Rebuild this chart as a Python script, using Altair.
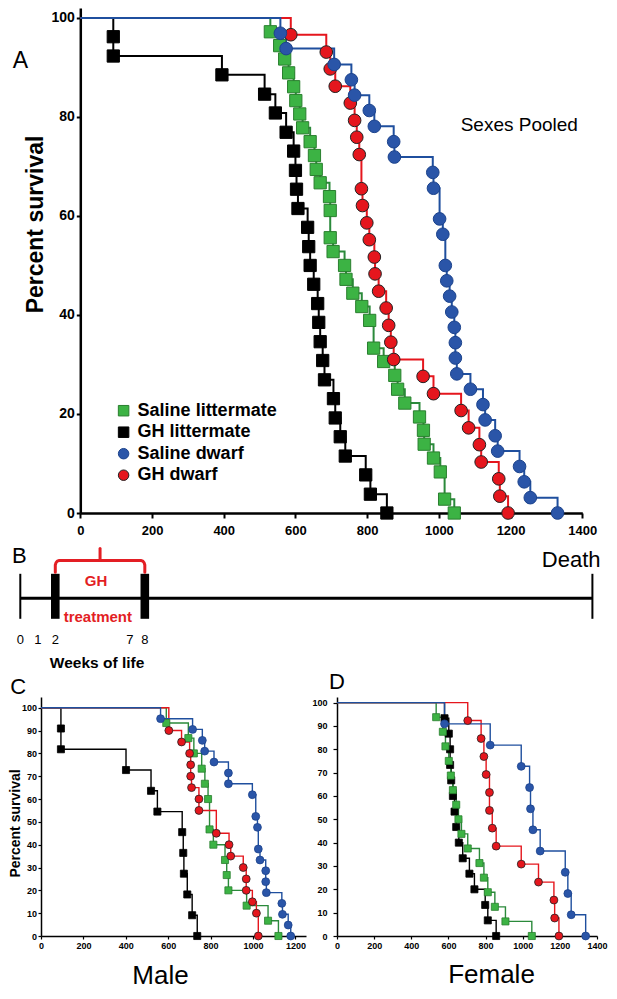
import altair as alt
import pandas as pd

# ------------------------------------------------------------------ data
LEGEND_ORDER = ["Saline littermate", "GH littermate", "Saline dwarf", "GH dwarf"]
DRAW_ORDER = ["GH littermate", "Saline littermate", "GH dwarf", "Saline dwarf"]
FILL_COLORS = ["#3cb344", "#000000", "#2a55a8", "#e5161d"]
LINE_COLORS = ["#2b8a3b", "#000000", "#1f4f9e", "#e5161d"]
EDGE_COLORS = ["#2a7f2f", "#000000", "#1c438c", "#222222"]
SHAPES = ["square", "square", "circle", "circle"]

# Panel A - sexes pooled: day of each death and % surviving after it
pooled_saline_lit_day = [530, 556, 570, 581, 595, 601, 612, 620, 641, 653, 658, 669, 695, 697, 697, 705,
                         737, 741, 760, 785, 807, 818, 846, 877, 885, 905, 946, 957, 959, 985, 1004, 1016, 1043]
pooled_saline_lit_pct = [97.2, 94.4, 91.7, 88.9, 86.1, 83.3, 80.6, 77.8, 75.0, 72.2, 69.4, 66.7, 63.9, 61.1, 55.6, 52.8,
                         50.0, 47.2, 44.4, 41.7, 38.9, 33.3, 30.6, 27.8, 25.0, 22.2, 19.4, 16.7, 13.9, 11.1, 8.3, 2.8, 0.0]
pooled_gh_lit_day = [92, 92, 395, 514, 544, 574, 595, 600, 603, 607, 634, 637, 641, 651, 662, 665, 669, 676, 681,
                     706, 711, 725, 739, 796, 809, 855]
pooled_gh_lit_pct = [96.2, 92.3, 88.5, 84.6, 80.8, 76.9, 73.1, 69.2, 65.4, 61.5, 57.7, 53.8, 50.0, 46.2, 42.3, 38.5,
                     34.6, 30.8, 26.9, 23.1, 19.2, 15.4, 11.5, 7.7, 3.8, 0.0]
pooled_saline_dwarf_day = [558, 574, 708, 756, 765, 806, 820, 874, 876, 983, 985, 1002, 1011, 1018, 1022, 1030, 1036,
                           1043, 1046, 1046, 1050, 1088, 1123, 1129, 1157, 1164, 1225, 1238, 1255, 1331]
pooled_saline_dwarf_pct = [96.9, 93.8, 90.6, 87.5, 84.4, 81.3, 78.1, 75.0, 71.9, 68.8, 65.6, 59.4, 56.3, 50.0, 46.9,
                           43.8, 40.6, 37.5, 34.4, 31.3, 28.1, 25.0, 21.9, 18.8, 15.6, 12.5, 9.4, 6.3, 3.1, 0.0]
pooled_gh_dwarf_day = [587, 686, 697, 711, 753, 765, 771, 778, 784, 787, 799, 806, 820, 822, 832, 853, 860, 866, 874,
                       956, 985, 1062, 1083, 1113, 1118, 1167, 1170, 1193]
pooled_gh_dwarf_pct = [96.6, 93.1, 89.7, 86.2, 82.8, 79.3, 75.9, 72.4, 65.5, 62.1, 58.6, 55.2, 51.7, 48.3, 44.8, 41.4,
                       37.9, 34.5, 31.0, 27.6, 24.1, 20.7, 17.2, 13.8, 10.3, 6.9, 3.4, 0.0]

# Panel C - male
male_saline_lit_day = [591, 695, 721, 758, 773, 788, 795, 813, 868, 876, 884, 970, 1071, 1120]
male_saline_lit_pct = [93.3, 86.7, 80.0, 73.3, 66.7, 60.0, 46.7, 40.0, 33.3, 26.7, 20.0, 13.3, 6.7, 0.0]
male_gh_lit_day = [94, 94, 401, 519, 549, 666, 671, 674, 690, 713, 737]
male_gh_lit_pct = [90.9, 81.8, 72.7, 63.6, 54.5, 45.5, 36.4, 27.3, 18.2, 9.1, 0.0]
male_saline_dwarf_day = [564, 715, 761, 772, 816, 884, 884, 997, 1013, 1021, 1025, 1033, 1060, 1060, 1063, 1136,
                         1139, 1166, 1178]
male_saline_dwarf_pct = [95.2, 90.5, 85.7, 81.0, 76.2, 71.4, 66.7, 61.9, 52.4, 47.6, 38.1, 33.3, 28.6, 23.8, 19.0,
                         14.3, 9.5, 4.8, 0.0]
male_gh_dwarf_day = [603, 663, 701, 706, 706, 710, 745, 745, 827, 887, 895, 954, 968, 968, 997, 1016, 1025]
male_gh_dwarf_pct = [90, 85, 80, 75, 70, 65, 60, 55, 45, 40, 35, 30, 25, 20, 15, 10, 0]

# Panel D - female
female_saline_lit_day = [534, 570, 584, 602, 613, 624, 642, 654, 670, 704, 767, 791, 812, 850, 907, 1049]
female_saline_lit_pct = [93.75, 87.5, 81.25, 75.0, 68.75, 62.5, 56.25, 50.0, 43.75, 37.5, 31.25, 25.0, 18.75, 12.5,
                         6.25, 0.0]
female_gh_lit_day = [579, 602, 609, 609, 615, 624, 633, 642, 656, 677, 713, 740, 798, 812, 857]
female_gh_lit_pct = [93.3, 86.7, 80.0, 73.3, 66.7, 60.0, 53.3, 46.7, 40.0, 33.3, 26.7, 20.0, 13.3, 6.7, 0.0]
female_saline_dwarf_day = [579, 825, 992, 1037, 1042, 1055, 1094, 1229, 1243, 1261, 1339]
female_saline_dwarf_pct = [90.9, 81.8, 72.7, 63.6, 54.5, 45.5, 36.4, 27.3, 18.2, 9.1, 0.0]
female_gh_dwarf_day = [704, 776, 791, 803, 821, 821, 836, 857, 992, 1085, 1168, 1172, 1195]
female_gh_dwarf_pct = [92.3, 84.6, 76.9, 69.2, 61.5, 53.8, 46.2, 38.5, 30.8, 23.1, 15.4, 7.7, 0.0]

A_X_TICKS = [0, 200, 400, 600, 800, 1000, 1200, 1400]
A_Y_TICKS = [0, 20, 40, 60, 80, 100]
C_X_TICKS = [0, 200, 400, 600, 800, 1000, 1200]
D_X_TICKS = [0, 200, 400, 600, 800, 1000, 1200, 1400]
CD_Y_TICKS = [0, 10, 20, 30, 40, 50, 60, 70, 80, 90, 100]

# Panel B - treatment schematic (weeks of life)
WEEK_TICKS = [0, 1, 2, 7, 8]
TREATMENT_WEEKS = [2, 8]
DEATH_WEEK = 38

FONT = "Liberation Sans"

pooled = {
    "Saline littermate": (pooled_saline_lit_day, pooled_saline_lit_pct),
    "GH littermate": (pooled_gh_lit_day, pooled_gh_lit_pct),
    "Saline dwarf": (pooled_saline_dwarf_day, pooled_saline_dwarf_pct),
    "GH dwarf": (pooled_gh_dwarf_day, pooled_gh_dwarf_pct),
}
male = {
    "Saline littermate": (male_saline_lit_day, male_saline_lit_pct),
    "GH littermate": (male_gh_lit_day, male_gh_lit_pct),
    "Saline dwarf": (male_saline_dwarf_day, male_saline_dwarf_pct),
    "GH dwarf": (male_gh_dwarf_day, male_gh_dwarf_pct),
}
female = {
    "Saline littermate": (female_saline_lit_day, female_saline_lit_pct),
    "GH littermate": (female_gh_lit_day, female_gh_lit_pct),
    "Saline dwarf": (female_saline_dwarf_day, female_saline_dwarf_pct),
    "GH dwarf": (female_gh_dwarf_day, female_gh_dwarf_pct),
}

FILL_SCALE = alt.Scale(domain=LEGEND_ORDER, range=FILL_COLORS)
SHAPE_SCALE = alt.Scale(domain=LEGEND_ORDER, range=SHAPES)
EDGE_SCALE = alt.Scale(domain=LEGEND_ORDER, range=EDGE_COLORS)
LINE_SCALE = alt.Scale(domain=LEGEND_ORDER, range=LINE_COLORS)


def km_frames(series_data, sq_size, ci_size):
    line_rows, pt_rows = [], []
    for name in DRAW_ORDER:
        days, pcts = series_data[name]
        msize = sq_size if SHAPES[LEGEND_ORDER.index(name)] == "square" else ci_size
        line_rows.append(dict(series=name, day=0, pct=100, k=0))
        for i, (d, p) in enumerate(zip(days, pcts), start=1):
            line_rows.append(dict(series=name, day=d, pct=p, k=i))
            pt_rows.append(dict(series=name, day=d, pct=p, msize=msize))
    return pd.DataFrame(line_rows), pd.DataFrame(pt_rows)


def note(label, x, y, size, weight="normal", color="black", align="center", baseline="middle"):
    return alt.Chart(pd.DataFrame({"t": [label]})).mark_text(
        fontSize=size, fontWeight=weight, color=color, align=align, baseline=baseline, font=FONT
    ).encode(text="t:N", x=alt.value(x), y=alt.value(y))


def legend_symbol(name, x, y, size):
    return alt.Chart(pd.DataFrame({"series": [name]})).mark_point(filled=True, opacity=1, strokeWidth=1).encode(
        x=alt.value(x), y=alt.value(y),
        fill=alt.Fill("series:N", scale=FILL_SCALE, legend=None),
        shape=alt.Shape("series:N", scale=SHAPE_SCALE, legend=None),
        stroke=alt.Stroke("series:N", scale=EDGE_SCALE, legend=None),
        size=alt.value(size),
    )


def km_panel(series_data, xscale, yscale, xaxis, yaxis, w, h, line_w, sq_size, ci_size, edge_w, extras):
    lines_df, pts_df = km_frames(series_data, sq_size, ci_size)
    X = alt.X("day:Q", scale=xscale, axis=xaxis)
    Y = alt.Y("pct:Q", scale=yscale, axis=yaxis)
    lines = alt.Chart(lines_df).mark_line(interpolate="step-after", strokeWidth=line_w).encode(
        x=X, y=Y,
        color=alt.Color("series:N", scale=LINE_SCALE, legend=None),
        order="k:Q",
    )
    pts = alt.Chart(pts_df).mark_point(filled=True, opacity=1, strokeWidth=edge_w).encode(
        x=X, y=Y,
        fill=alt.Fill("series:N", scale=FILL_SCALE, legend=None),
        shape=alt.Shape("series:N", scale=SHAPE_SCALE, legend=None),
        stroke=alt.Stroke("series:N", scale=EDGE_SCALE, legend=None),
        size=alt.Size("msize:Q", scale=None),
    )
    return alt.layer(lines, pts, *extras).properties(width=w, height=h)


# ------------------------------------------------------------------ panel A
# view origin shared with panel C; the plot area of A starts 39.3 px further right
A_SHIFT = 39.3
axis_ax = alt.Axis(values=A_X_TICKS, format="d", title=None, labelFontSize=13, labelFontWeight="bold",
                   labelPadding=6, tickSize=5, tickWidth=2, domainWidth=2.5, labelFlush=False, labelOverlap=False)
axis_ay = alt.Axis(values=A_Y_TICKS, format="d", title="Percent survival", titleFontSize=23, titleFontWeight="bold",
                   titleX=-45, titleY=216, titleAngle=270, titleAlign="center", titleBaseline="middle",
                   labelFontSize=14, labelFontWeight="bold", labelPadding=2, tickSize=4, tickWidth=2,
                   domainWidth=2.5, labelOverlap=False, offset=-A_SHIFT)

legend_layers = []
for i, name in enumerate(LEGEND_ORDER):
    yy = 402.7 + 21.5 * i
    legend_layers.append(legend_symbol(name, 82.6, yy, 110))
    legend_layers.append(note(name, 96.6, yy, 18, weight="bold", align="left"))

panel_a = km_panel(
    pooled,
    alt.Scale(domain=[0, 1400], range=[A_SHIFT, A_SHIFT + 502], nice=False, zero=False),
    alt.Scale(domain=[0, 102], nice=False, zero=False),
    axis_ax, axis_ay, A_SHIFT + 502, 505, 2, 150, 160, 1,
    [note("A", -20.7, 52.5, 23), note("Sexes Pooled", 478.3, 117, 19)] + legend_layers,
)

# ------------------------------------------------------------------ panel B
# schematic week axis: first weeks drawn a little wider, as in the original sketch
bx = alt.Scale(domain=[0, 2, DEATH_WEEK], range=[-20.7, 14.3, 551.4], nice=False, zero=False)
by = alt.Scale(domain=[0, 134], reverse=True, nice=False, zero=False)


def BX(f):
    return alt.X(f, type="quantitative", scale=bx, axis=None)


def BY(f):
    return alt.Y(f, type="quantitative", scale=by, axis=None)


timeline = alt.Chart(pd.DataFrame({"w0": [0], "w1": [DEATH_WEEK], "lvl": [61.2]})).mark_rule(
    strokeWidth=3, color="black").encode(x=BX("w0"), x2=alt.X2("w1"), y=BY("lvl"))
end_ticks = alt.Chart(pd.DataFrame({"w": [0, DEATH_WEEK], "top": [36.8, 36.8], "bot": [81.8, 81.8]})).mark_rule(
    strokeWidth=2, color="black").encode(x=BX("w"), y=BY("top"), y2=alt.Y2("bot"))
bars = alt.Chart(pd.DataFrame({"w": TREATMENT_WEEKS, "top": [36.8, 36.8], "bot": [81.8, 81.8]})).mark_rule(
    strokeWidth=8.6, color="black", strokeCap="butt").encode(x=BX("w"), y=BY("top"), y2=alt.Y2("bot"))
t0, t1 = TREATMENT_WEEKS
mid = (t0 + t1) / 2
brace_df = pd.DataFrame({
    "w": [t0, t0, t0 + 0.05, t0 + 0.13, t0 + 0.27, t1 - 0.27, t1 - 0.13, t1 - 0.05, t1, t1],
    "lvl": [35.2, 28.0, 25.6, 24.2, 23.5, 23.5, 24.2, 25.6, 28.0, 35.2],
    "k": list(range(10)),
})
brace = alt.Chart(brace_df).mark_line(color="#e31e24", strokeWidth=3, strokeJoin="round", strokeCap="round").encode(
    x=BX("w"), y=BY("lvl"), order="k:Q")
spike = alt.Chart(pd.DataFrame({"w": [mid], "top": [11.5], "bot": [23.5]})).mark_rule(
    color="#e31e24", strokeWidth=3, strokeCap="round").encode(x=BX("w"), y=BY("top"), y2=alt.Y2("bot"))


def btext(rows, size, weight="normal", color="black", align="center"):
    return alt.Chart(pd.DataFrame(rows)).mark_text(
        fontSize=size, fontWeight=weight, color=color, align=align, baseline="middle", font=FONT
    ).encode(x=BX("w"), y=BY("lvl"), text="t:N")


b_layers = [
    timeline, end_ticks, bars, brace, spike,
    btext({"w": [4.73], "lvl": [43.8], "t": ["GH"]}, 15, "bold", "#e31e24"),
    btext({"w": [4.85], "lvl": [80.2], "t": ["treatment"]}, 15, "bold", "#e31e24"),
    btext({"w": WEEK_TICKS, "lvl": [102.5] * len(WEEK_TICKS), "t": [str(v) for v in WEEK_TICKS]}, 13),
    btext({"w": [4.8], "lvl": [125.5], "t": ["Weeks of life"]}, 15.5, "bold"),
    btext({"w": [36.58], "lvl": [23], "t": ["Death"]}, 22),
    note("B", -29, 19, 22, align="left"),
]
panel_b = alt.layer(*b_layers).properties(width=560, height=134)

# ------------------------------------------------------------------ panels C and D
axis_cx = alt.Axis(values=C_X_TICKS, format="d", title="Male", titleFontSize=26, titleFontWeight="normal",
                   titleX=119, titleY=47, titleAlign="center", titleBaseline="alphabetic",
                   labelFontSize=9, labelFontWeight="bold", labelPadding=2, tickSize=3, tickWidth=1.2,
                   domainWidth=1.5, labelFlush=False, labelOverlap=False)
axis_cy = alt.Axis(values=CD_Y_TICKS, format="d", title="Percent survival", titleFontSize=14, titleFontWeight="bold",
                   titleX=-25.5, titleY=126, titleAngle=270, titleAlign="center", titleBaseline="middle",
                   labelFontSize=9, labelFontWeight="bold", labelPadding=1.5, tickSize=3, tickWidth=1.2,
                   domainWidth=1.5, labelOverlap=False)
axis_dx = alt.Axis(values=D_X_TICKS, format="d", title="Female", titleFontSize=26, titleFontWeight="normal",
                   titleX=154, titleY=46, titleAlign="center", titleBaseline="alphabetic",
                   labelFontSize=9, labelFontWeight="bold", labelPadding=2, tickSize=3, tickWidth=1.2,
                   domainWidth=1.5, labelFlush=False, labelOverlap=False)
axis_dy = alt.Axis(values=CD_Y_TICKS, format="d", title=None, labelFontSize=9, labelFontWeight="bold",
                   labelPadding=6, tickSize=4, tickWidth=1.2, domainWidth=1.5, labelOverlap=False)

panel_c = km_panel(
    male,
    alt.Scale(domain=[0, 1250], nice=False, zero=False),
    alt.Scale(domain=[0, 104.7], nice=False, zero=False),
    axis_cx, axis_cy, 265, 239, 1.4, 50, 62, 0.8,
    [note("C", -30.7, -10.5, 22, align="left")],
)
panel_d = km_panel(
    female,
    alt.Scale(domain=[0, 1400], nice=False, zero=False),
    alt.Scale(domain=[0, 102.4], nice=False, zero=False),
    axis_dx, axis_dy, 260, 239, 1.4, 50, 62, 0.8,
    [note("D", 0, -15, 22)],
)

indep = dict(color="independent", fill="independent", shape="independent", stroke="independent")
row_cd = alt.hconcat(panel_c, panel_d, spacing=5).resolve_scale(**indep)

chart = alt.concat(panel_a, panel_b, row_cd, columns=1, spacing=0, align="none", bounds="full") \
    .resolve_scale(**indep) \
    .properties(padding=0) \
    .configure(font=FONT) \
    .configure_view(stroke=None) \
    .configure_axis(grid=False, domainColor="black", tickColor="black", labelColor="black",
                    titleColor="black", labelFont=FONT, titleFont=FONT)

chart.save("out.html", embed_options={"renderer": "svg", "actions": False})
